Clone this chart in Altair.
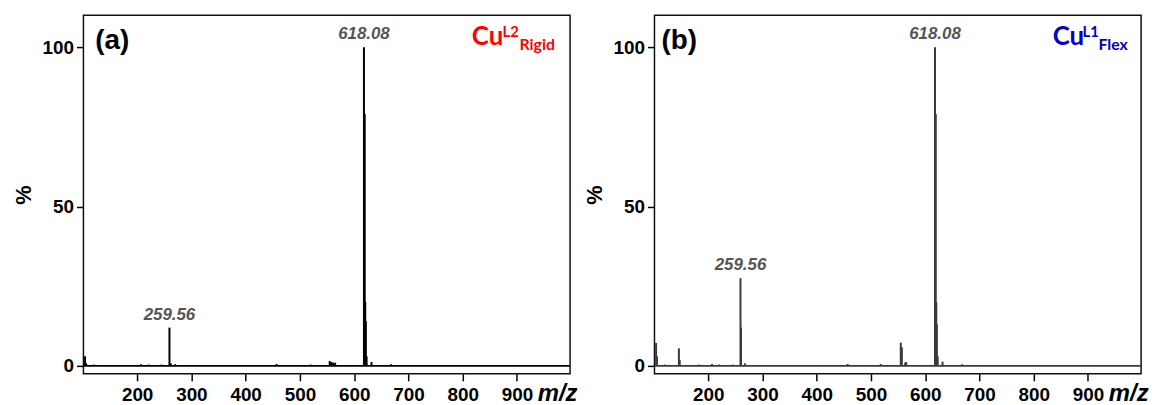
import altair as alt
import pandas as pd

# ---- data ----
mz_a = [104, 106, 120, 135, 150, 172, 190, 207, 221, 245, 259.56, 262, 270, 310, 335,
        457, 520, 555, 558, 561, 565, 590, 604, 618.08, 619.5, 620.5, 621.5, 623, 632, 668]
int_a = [3.0, 0.8, 0.4, 0.3, 0.3, 0.3, 0.3, 0.5, 0.4, 0.4, 12.0, 0.8, 0.5, 0.3, 0.2,
         0.6, 0.4, 1.5, 1.2, 1.0, 1.0, 0.3, 0.3, 100, 79, 20, 14, 3, 1.2, 0.5]

mz_b = [104, 105.5, 120, 130, 146, 147.5, 170, 183, 207, 220, 245, 259.56, 260.5, 268, 310,
        457, 518, 555, 557, 563, 565, 604, 618.08, 619.5, 620.5, 621.5, 623, 632, 668]
int_b = [7.2, 3.0, 0.4, 0.3, 5.5, 1.8, 0.3, 0.4, 0.6, 0.4, 0.4, 27.5, 12.0, 0.8, 0.3,
         0.6, 0.6, 7.3, 5.8, 1.0, 1.2, 0.3, 100, 79, 20, 13, 3, 1.3, 0.5]

label_mz = [259.56, 618.08]
label_text = ["259.56", "618.08"]
label_int_a = [12.0, 100]
label_int_b = [27.5, 100]

x_ticks = [200, 300, 400, 500, 600, 700, 800, 900]
y_ticks = [0, 50, 100]
x_domain = [101, 998]
y_domain = [-2.5, 110]

W, H = 490, 361
FONT = "Liberation Sans"


def panel(mz, inten, lab_int, color, tag, tag_x, sup, sub, name_color, cu_x, sup_x, sub_x):
    df = pd.DataFrame({"mz": mz, "intensity": inten})
    xs = alt.Scale(domain=x_domain, nice=False, zero=False)
    ys = alt.Scale(domain=y_domain, nice=False, zero=False)
    xaxis = alt.Axis(values=x_ticks, title="m/z", titleFont=FONT, titleFontSize=24,
                     titleFontWeight="bold", titleFontStyle="italic", titleX=477,
                     titleY=27, titleAlign="center", titleBaseline="alphabetic",
                     labelPadding=5)
    yaxis = alt.Axis(values=y_ticks, title="%", titleFont=FONT, titleFontSize=22,
                     titleFontWeight="bold", titlePadding=7, labelPadding=3)
    sticks = alt.Chart(df).mark_rule(color=color, strokeWidth=2).encode(
        x=alt.X("mz:Q", scale=xs, axis=xaxis),
        y=alt.Y("intensity:Q", scale=ys, axis=yaxis),
        y2=alt.datum(0),
    )
    base = alt.Chart(pd.DataFrame({"z": [0]})).mark_rule(color=color, strokeWidth=1.6).encode(
        y=alt.Y("z:Q", scale=ys),
        x=alt.value(0),
        x2=alt.value(W),
    )
    ldf = pd.DataFrame({"mz": label_mz, "intensity": lab_int, "t": label_text})
    labels = alt.Chart(ldf).mark_text(
        dy=-8, baseline="alphabetic", align="center", font=FONT, fontSize=17,
        fontWeight="bold", fontStyle="italic", color="#555555"
    ).encode(x=alt.X("mz:Q", scale=xs), y=alt.Y("intensity:Q", scale=ys), text="t:N")

    def txt(s, x, y, size, col, font=FONT):
        return alt.Chart(pd.DataFrame({"t": [s]})).mark_text(
            align="left", baseline="alphabetic", font=font, fontSize=size,
            fontWeight="bold", color=col
        ).encode(x=alt.value(x), y=alt.value(y), text="t:N")

    tag_t = txt(tag, tag_x, 34, 28, "black")
    cu = txt("Cu", cu_x, 30, 26, name_color, "Lato")
    sp = txt(sup, sup_x, 22, 15, name_color, "Lato")
    sb = txt(sub, sub_x, 35, 16, name_color, "Lato")
    return alt.layer(sticks, base, labels, tag_t, cu, sp, sb).properties(width=W, height=H)


a = panel(mz_a, int_a, label_int_a, "#000000", "(a)", 12, "L2", "Rigid", "#ff0000", 391, 422, 439)
b = panel(mz_b, int_b, label_int_b, "#3a3a3a", "(b)", 7, "L1", "Flex", "#0000c8", 401, 431, 447)

chart = alt.hconcat(a, b, spacing=85, bounds="flush").properties(
    padding={"left": 11, "top": 13, "right": 8, "bottom": 0}
).configure_view(stroke="#111111", strokeWidth=1.5).configure_axis(
    labelFont=FONT, labelFontSize=19, labelFontWeight="bold", labelColor="black",
    tickColor="black", tickWidth=1.5, tickSize=7, domain=False, grid=False,
    titleColor="black"
)

chart.save("out.html", embed_options={"renderer": "svg", "actions": False})
